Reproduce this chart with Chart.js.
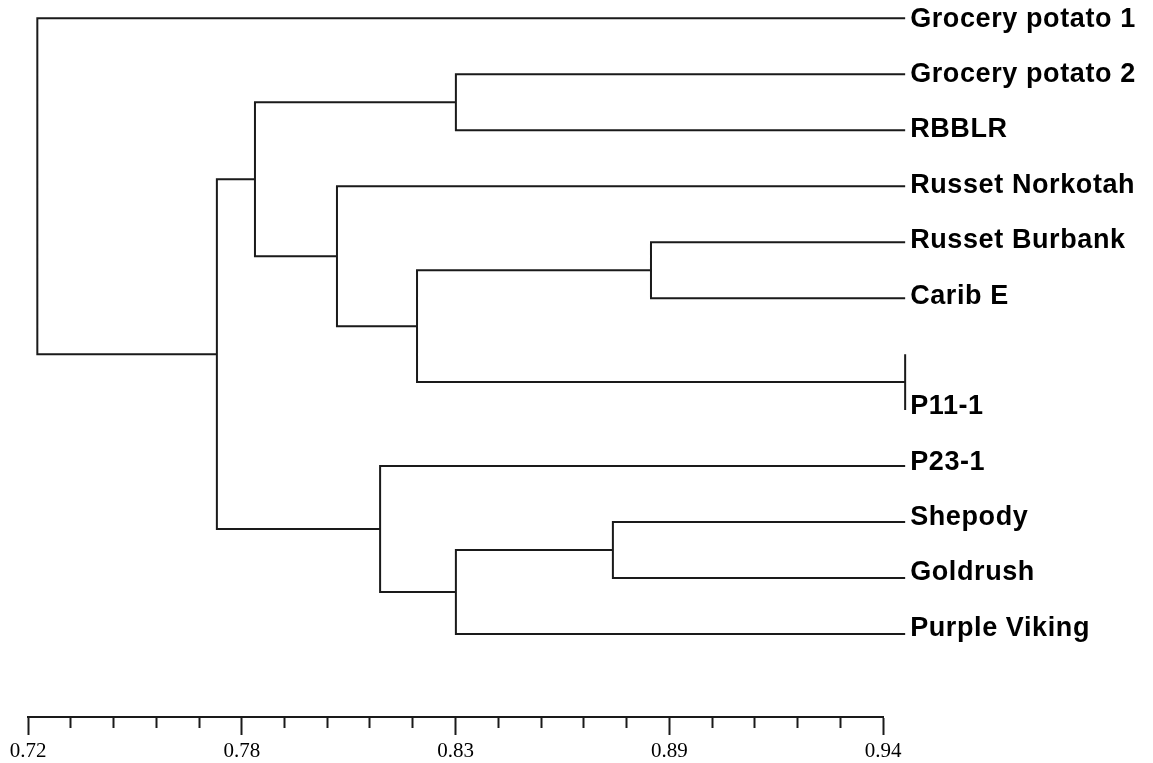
<!DOCTYPE html>
<html>
<head>
<meta charset="utf-8">
<title>Dendrogram</title>
<script src="https://cdn.jsdelivr.net/npm/chart.js@4.4.1/dist/chart.umd.min.js"></script>
<style>
  html, body { margin: 0; padding: 0; background: #fff; }
  #wrap { width: 1153px; height: 763px; position: relative; }
</style>
</head>
<body>
<div id="wrap"><canvas id="tree"></canvas></div>
<script>
/* Dendrogram of potato lines (similarity coefficient) */

// leaves, top to bottom (leaf 6 has no label in the original)
const leafNames = [
  'Grocery potato 1', 'Grocery potato 2', 'RBBLR', 'Russet Norkotah',
  'Russet Burbank', 'Carib E', '', 'P11-1',
  'P23-1', 'Shepody', 'Goldrush', 'Purple Viking'
];
const leafHeight = 0.9457;

// merges: node id = 12 + merge index
const mergeA      = [6, 4, 9, 1, 14, 13, 8, 3, 15, 20, 0];
const mergeB      = [7, 5, 10, 2, 11, 12, 16, 17, 19, 18, 21];
const mergeHeight = [0.9457, 0.8803, 0.8705, 0.8301, 0.8301, 0.8201, 0.8106, 0.7995, 0.7784, 0.7686, 0.7224];

// axis
const majorTicks = [0.72, 0.775, 0.83, 0.885, 0.94];
const tickLabels = ['0.72', '0.78', '0.83', '0.89', '0.94'];
const minorPerStep = 5;

const INK = '#1a1a1a';

function buildTreeLines() {
  const nx = leafNames.map(() => leafHeight);
  const ny = leafNames.map((_, i) => i);
  const pts = [];
  mergeA.forEach((a, k) => {
    const b = mergeB[k], h = mergeHeight[k];
    pts.push({x: nx[a], y: ny[a]}, {x: h, y: ny[a]}, {x: h, y: ny[b]}, {x: nx[b], y: ny[b]});
    pts.push({x: null, y: null});
    nx.push(h);
    ny.push((ny[a] + ny[b]) / 2);
  });
  return pts;
}

function buildAxisTicks() {
  const out = [];
  for (let i = 0; i < majorTicks.length; i++) {
    out.push(majorTicks[i]);
    if (i < majorTicks.length - 1) {
      const step = (majorTicks[i + 1] - majorTicks[i]) / minorPerStep;
      for (let j = 1; j < minorPerStep; j++) out.push(majorTicks[i] + step * j);
    }
  }
  return out;
}
const axisTicks = buildAxisTicks();

const leafLabels = {
  id: 'leafLabels',
  afterDatasetsDraw(chart) {
    const {ctx, scales: {x, y}} = chart;
    ctx.save();
    ctx.font = "bold 27px 'Liberation Sans', Arial, sans-serif";
    ctx.fillStyle = '#000';
    ctx.textAlign = 'left';
    ctx.textBaseline = 'middle';
    ctx.letterSpacing = '0.6px';
    const lx = x.getPixelForValue(leafHeight) + 5;
    leafNames.forEach((name, i) => {
      if (!name) return;
      ctx.fillText(name, lx, y.getPixelForValue(i) + 1 - i * 0.6);
    });
    ctx.restore();
  }
};

new Chart(document.getElementById('tree'), {
  type: 'scatter',
  data: {
    datasets: [{
      data: buildTreeLines(),
      showLine: true,
      spanGaps: false,
      borderColor: INK,
      borderWidth: 2,
      borderJoinStyle: 'miter',
      borderCapStyle: 'butt',
      pointRadius: 0,
      pointHoverRadius: 0,
      tension: 0,
      clip: false
    }]
  },
  options: {
    responsive: true,
    maintainAspectRatio: false,
    animation: false,
    events: [],
    layout: { padding: { left: 28, right: 270, top: 0, bottom: 0 } },
    plugins: { legend: { display: false }, tooltip: { enabled: false } },
    scales: {
      x: {
        type: 'linear',
        position: { y: 12.483 },
        min: 0.72,
        max: 0.94,
        afterBuildTicks: s => { s.ticks = axisTicks.map(v => ({value: v})); },
        border: { display: true, color: INK, width: 2 },
        grid: {
          display: true,
          drawOnChartArea: false,
          drawTicks: true,
          tickLength: 17,
          tickColor: INK,
          tickWidth: 2,
          tickBorderDash: c => (c.index % minorPerStep === 0 ? [] : [10, 40])
        },
        ticks: {
          autoSkip: false,
          maxRotation: 0,
          minRotation: 0,
          padding: 5,
          color: '#000',
          font: { family: "'Liberation Serif', 'Times New Roman', serif", size: 21 },
          callback: (v, i) => (i % minorPerStep === 0 ? tickLabels[i / minorPerStep] : '')
        }
      },
      y: {
        type: 'linear',
        reverse: true,
        display: false,
        min: -0.327,
        max: 13.305
      }
    }
  },
  plugins: [leafLabels]
});
</script>
</body>
</html>
